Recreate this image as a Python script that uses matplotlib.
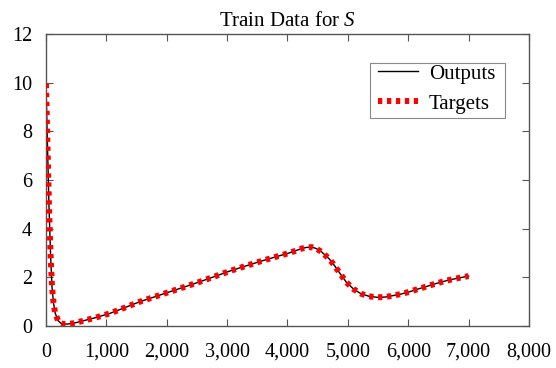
import matplotlib
matplotlib.use("Agg")
import matplotlib.pyplot as plt
import numpy as np
from matplotlib.ticker import FuncFormatter
from matplotlib.patches import Rectangle

plt.rcParams['font.family'] = ['Liberation Serif', 'DejaVu Serif']
plt.rcParams['mathtext.fontset'] = 'custom'
plt.rcParams['mathtext.it'] = 'Liberation Serif:italic'
plt.rcParams['mathtext.rm'] = 'Liberation Serif'

# Data
time_steps = [0, 25, 50, 78, 100, 125, 150, 200, 250, 290, 350, 450, 563, 800, 1060, 1300,
              1556, 1800, 2053, 2300, 2550, 2800, 3046, 3300, 3543, 3800, 4000, 4120, 4230,
              4316, 4400, 4470, 4564, 4691, 4785, 4884, 4978, 5099, 5215, 5353, 5486, 5618,
              5750, 5889, 6026, 6148, 6286, 6413, 6551, 6677, 6810, 6954, 7000]
s_values = [9.95, 7.4, 4.9, 2.8, 1.6, 0.95, 0.55, 0.22, 0.11, 0.08, 0.08, 0.11, 0.18, 0.33, 0.52,
            0.75, 1.0, 1.2, 1.41, 1.61, 1.82, 2.04, 2.26, 2.46, 2.65, 2.84, 2.98, 3.08, 3.18,
            3.23, 3.24, 3.19, 3.05, 2.76, 2.46, 2.11, 1.79, 1.51, 1.33, 1.22, 1.18, 1.19,
            1.25, 1.32, 1.41, 1.51, 1.61, 1.71, 1.81, 1.89, 1.96, 2.03, 2.05]
x_ticks = [0, 1000, 2000, 3000, 4000, 5000, 6000, 7000, 8000]
y_ticks = [0, 2, 4, 6, 8, 10, 12]

fig = plt.figure(figsize=(5.56, 3.68), dpi=100)
ax = fig.add_axes([0.0827, 0.1141, 0.8687, 0.7935])

ax.plot(time_steps, s_values, color='black', lw=1.0, label='Outputs', zorder=2)
ax.plot(time_steps, s_values, color='red', lw=4.3, linestyle=(0, (0.72, 0.78)),
        dash_capstyle='butt', label='Targets', zorder=3)

ax.set_xlim(0, 8000)
ax.set_ylim(0, 12)
ax.set_xticks(x_ticks)
ax.set_yticks(y_ticks)
ax.xaxis.set_major_formatter(FuncFormatter(lambda v, p: f"{int(v):,}"))

for s in ax.spines.values():
    s.set_color('#555555')
    s.set_linewidth(1.0)
ax.tick_params(direction='in', length=5, width=0.8, color='#555555',
               top=True, right=True, labelsize=14.5)
ax.tick_params(axis='x', pad=12)
ax.tick_params(axis='y', pad=10)

ax.set_title('Train Data for $S$', fontsize=15, pad=6)

# legend frame drawn separately to match the tight vertical padding
ax.add_patch(Rectangle((0.671, 0.712), 0.279, 0.189, transform=ax.transAxes,
                       facecolor='white', edgecolor='#888888', lw=0.8, zorder=4))
leg = ax.legend(loc='upper left', bbox_to_anchor=(0.687, 0.897), borderaxespad=0,
                fontsize=15, frameon=False, handlelength=1.95, borderpad=0.0,
                labelspacing=0.5, handletextpad=0.5)
leg.set_zorder(5)

fig.savefig('out.png', dpi=100)
